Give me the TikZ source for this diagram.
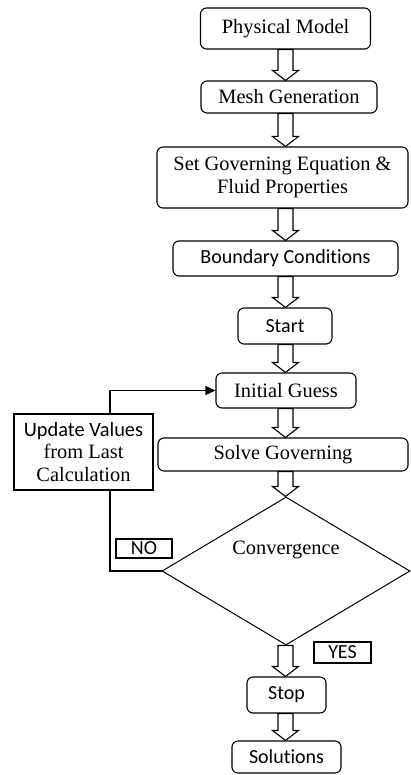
\documentclass[tikz,border=0pt]{standalone}
\usepackage{fontspec}
\setmainfont{Liberation Serif}
\newfontfamily\calfont[Ligatures=NoCommon]{Carlito}
\usetikzlibrary{shapes.geometric,arrows.meta,calc}

\newcommand{\hollowarrow}[2]{%
  \draw[line width=0.55pt, fill=white] let \p1=(#1.south), \p2=(#2.north), \p3=(axis) in
    (\x3-3.75pt,\y1) -- (\x3-3.75pt,\y2+5pt) -- (\x3-6.5pt,\y2+5pt) -- (\x3,\y2)
    -- (\x3+6.5pt,\y2+5pt) -- (\x3+3.75pt,\y2+5pt) -- (\x3+3.75pt,\y1) -- cycle;}

\begin{document}
\begin{tikzpicture}[x=0.5pt, y=-0.5pt,
    font=\fontsize{10.2}{11.4}\selectfont,
    rbox/.style={draw, rounded corners=3pt, line width=0.55pt, inner sep=0pt, align=center},
    sbox/.style={draw, line width=0.55pt, inner sep=0pt, align=center}]
    \useasboundingbox (0,0) rectangle (411,775);
    \coordinate (axis) at (285.5,0);

    \node[rbox, minimum width=85pt, minimum height=20.5pt] (phys) at (285.5,28.5) {Physical Model};
    \node[rbox, minimum width=88pt, minimum height=16pt] (mesh) at (289,97) {Mesh Generation};
    \node[rbox, minimum width=125.5pt, minimum height=30.5pt] (setgov) at (282.5,177.5) {Set Governing Equation \&\\Fluid Properties};
    \node[rbox, font=\calfont, minimum width=112.5pt, minimum height=17.5pt] (bc) at (285.5,258.5) {Boundary Conditions};
    \node[rbox, font=\calfont, minimum width=47pt, minimum height=18pt] (start) at (285,326) {Start};
    \node[rbox, minimum width=70pt, minimum height=17.5pt] (init) at (286,390.5) {Initial Guess};
    \node[rbox, minimum width=125pt, minimum height=16.5pt] (solve) at (283,454.5) {Solve Governing};
    \node[sbox, minimum width=69.5pt, minimum height=38pt] (upd) at (83.5,452) {{\calfont Update Values}\\from Last\\Calculation};
    \node[draw, diamond, line width=0.5pt, inner sep=0pt, minimum width=124pt, minimum height=74pt,
          label={[yshift=10.5pt]center:Convergence}] (dia) at (286,571) {};
    \node[sbox, font=\calfont, minimum width=28pt, minimum height=9.5pt] (no) at (144,548.5) {NO};
    \node[sbox, font=\calfont, minimum width=28.5pt, minimum height=10.5pt] (yes) at (342.5,652.5) {YES};
    \node[rbox, font=\calfont, minimum width=39.5pt, minimum height=18pt] (stop) at (286.5,695) {Stop};
    \node[rbox, font=\calfont, minimum width=54.5pt, minimum height=16pt] (sol) at (286.5,757) {Solutions};

    \hollowarrow{phys}{mesh}
    \hollowarrow{mesh}{setgov}
    \hollowarrow{setgov}{bc}
    \hollowarrow{bc}{start}
    \hollowarrow{start}{init}
    \hollowarrow{init}{solve}
    \hollowarrow{solve}{dia}
    \hollowarrow{dia}{stop}
    \hollowarrow{stop}{sol}

    \draw[line width=0.55pt] (dia.west) -| ([xshift=13.25pt]upd.south);
    \draw[line width=0.55pt, -{Triangle[length=5pt,width=4.5pt]}] ([xshift=13.25pt]upd.north) |- (init.west);
\end{tikzpicture}
\end{document}
